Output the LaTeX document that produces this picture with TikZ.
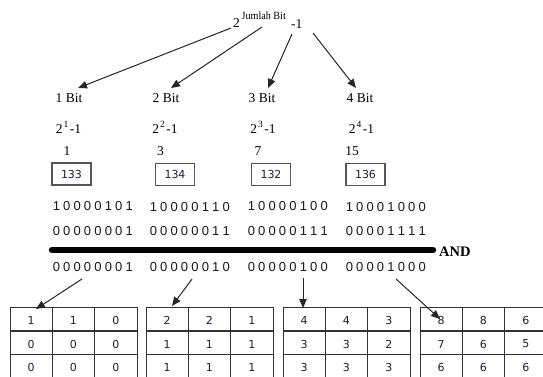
\documentclass[tikz,border=0pt]{standalone}
\usepackage{fontspec}
\setmainfont{Liberation Serif}
\newfontfamily\binfont{Liberation Sans}
\newfontfamily\numfont{DejaVu Sans}
\usetikzlibrary{arrows.meta}
\definecolor{ink}{HTML}{1E1E3C}
\definecolor{gridc}{HTML}{333333}
\definecolor{boxc}{HTML}{555555}
\def\bitsx#1{\ifx#1\relax\else\makebox[10.4pt]{#1}\expandafter\bitsx\fi}
\newcommand\bitgroup[1]{\bitsx#1\relax}
\newcommand\pw[1]{2\kern1pt\raisebox{6pt}{\fontsize{9.5}{10}\selectfont #1}\kern1.5pt-1}
\newcommand\gridtable[5]{%
  \node[tablebox, anchor=north west] (#1) at (#2,307) {};
  \draw[gridline] (#2+42.3,307) -- ++(0,71);
  \draw[gridline] (#2+84.6,307) -- ++(0,71);
  \draw[gridline] (#2,331) -- ++(127,0);
  \draw[gridline] (#2,354.5) -- ++(127,0);
  \foreach \v [count=\j] in {#3} \node[cell] (#1-1-\j) at (#2+42.3*\j-21.15,320.5) {\v};
  \foreach \v [count=\j] in {#4} \node[cell] (#1-2-\j) at (#2+42.3*\j-21.15,344) {\v};
  \foreach \v [count=\j] in {#5} \node[cell] (#1-3-\j) at (#2+42.3*\j-21.15,367) {\v};
}
\begin{document}
\begin{tikzpicture}[x=1pt,y=-1pt,
  lbl/.style={inner sep=0pt, font=\fontsize{13.5}{15}\selectfont},
  bitrow/.style={inner sep=0pt, anchor=west, font=\binfont\fontsize{13}{14}\selectfont, text=black!90},
  valbox/.style={draw=boxc, line width=1.1pt, minimum width=39pt, minimum height=22pt, inner sep=0pt, font=\numfont\fontsize{11}{12}\selectfont, text=ink},
  arr/.style={draw=black!85, line width=1pt, -{Triangle[length=9pt,width=7.5pt]}},
  cell/.style={inner sep=0pt, font=\numfont\fontsize{11}{12}\selectfont, text=ink},
  tablebox/.style={draw=gridc, line width=1.2pt, minimum width=127pt, minimum height=71pt, inner sep=0pt},
  gridline/.style={draw=gridc, line width=1.2pt},
  ]
\useasboundingbox (0,0) rectangle (543,376);
\fill[white] (0,0) rectangle (543,376);

% title
\node[lbl, anchor=base] (two) at (236.5,27) {2};
\node[inner sep=0pt, anchor=base west, font=\fontsize{11}{12}\selectfont] (jb) at (241.5,19.5) {\scalebox{0.92}[1]{Jumlah Bit}};
\node[lbl, anchor=base west] (m1) at (291,28) {-1};

% top arrows
\coordinate (s1) at (231,28);
\coordinate (s2) at (262,27);
\coordinate (s3) at (292,34);
\coordinate (s4) at (313,33);
\coordinate (e1) at (78,88);
\coordinate (e2) at (171,88);
\coordinate (e3) at (268,88);
\coordinate (e4) at (356,88);
\draw[arr] (s1) -- (e1);
\draw[arr] (s2) -- (e2);
\draw[arr] (s3) -- (e3);
\draw[arr] (s4) -- (e4);

% bit labels
\node[lbl] (b1) at (69,98) {1 Bit};
\node[lbl] (b2) at (166,98) {2 Bit};
\node[lbl] (b3) at (262,98) {3 Bit};
\node[lbl] (b4) at (360,98) {4 Bit};

\node[lbl, anchor=base] (p1) at (68.5,133) {\pw{1}};
\node[lbl, anchor=base] (p2) at (165,133) {\pw{2}};
\node[lbl, anchor=base] (p3) at (263,133) {\pw{3}};
\node[lbl, anchor=base] (p4) at (361.5,133) {\pw{4}};

\node[lbl, anchor=base] (v1) at (67,155) {1};
\node[lbl, anchor=base] (v2) at (160.5,155) {3};
\node[lbl, anchor=base] (v3) at (258,155) {7};
\node[lbl, anchor=base] (v4) at (352,155) {15};

\node[valbox] (k1) at (71.5,174) {133};
\node[valbox] (k2) at (175,174.5) {134};
\node[valbox] (k3) at (271,174.5) {132};
\node[valbox] (k4) at (365.5,174.5) {136};

% binary rows
\node[bitrow] (ra1) at (51,206) {\bitgroup{10000101}};
\node[bitrow] (ra2) at (148,207) {\bitgroup{10000110}};
\node[bitrow] (ra3) at (246,206) {\bitgroup{10000100}};
\node[bitrow] (ra4) at (344,207) {\bitgroup{10001000}};
\node[bitrow] (rb1) at (51,231) {\bitgroup{00000001}};
\node[bitrow] (rb2) at (148,231) {\bitgroup{00000011}};
\node[bitrow] (rb3) at (246,231) {\bitgroup{00000111}};
\node[bitrow] (rb4) at (344,231) {\bitgroup{00001111}};

\coordinate (barL) at (52,250);
\coordinate (barR) at (433,250);
\draw[line width=6.5pt, line cap=round] (barL) -- (barR);
\node[inner sep=0pt, anchor=west, font=\bfseries\fontsize{14.5}{15}\selectfont] (and) at (439,251.5) {AND};

\node[bitrow] (rc1) at (51,267.5) {\bitgroup{00000001}};
\node[bitrow] (rc2) at (148,267.5) {\bitgroup{00000010}};
\node[bitrow] (rc3) at (246,267.5) {\bitgroup{00000100}};
\node[bitrow] (rc4) at (344,267.5) {\bitgroup{00001000}};

% tables
\gridtable{t1}{10}{1,1,0}{0,0,0}{0,0,0}
\gridtable{t2}{146}{2,2,1}{1,1,1}{1,1,1}
\gridtable{t3}{283}{4,4,3}{3,3,2}{3,3,3}
\gridtable{t4}{420}{8,8,6}{7,6,5}{6,6,6}

% bottom arrows
\coordinate (u1) at (82,279);
\coordinate (u2) at (192,279);
\coordinate (u3) at (303,278);
\coordinate (u4) at (396,279);
\coordinate (w1) at (36,309);
\coordinate (w2) at (172,306);
\coordinate (w3) at (303,308);
\coordinate (w4) at (440,319);
\draw[arr] (u1) -- (w1);
\draw[arr] (u2) -- (w2);
\draw[arr] (u3) -- (w3);
\draw[arr] (u4) -- (w4);
\end{tikzpicture}
\end{document}
